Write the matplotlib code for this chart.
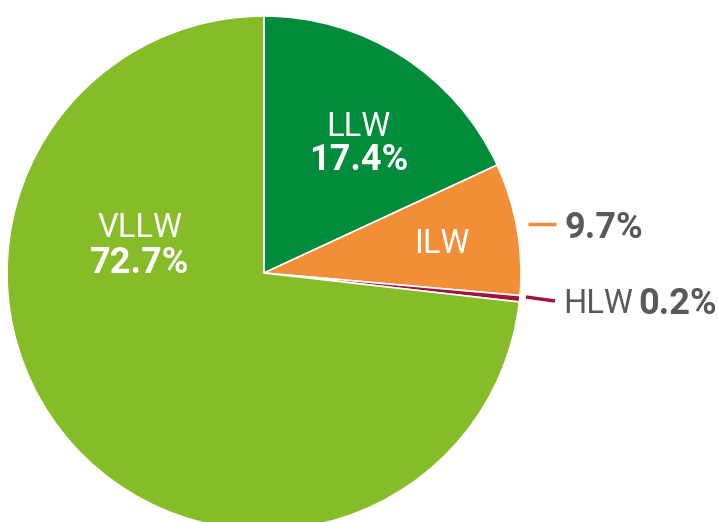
import matplotlib.pyplot as plt

plt.rcParams["font.family"] = ["Roboto", "DejaVu Sans"]

# waste classes, clockwise from 12 o'clock
categories = ["LLW", "ILW", "HLW", "VLLW"]
# slice shares as drawn in the picture
shares = [18.1, 8.3, 0.4, 73.2]
# printed percentages
pct_labels = ["17.4%", "9.7%", "0.2%", "72.7%"]
colors = ["#008C3A", "#F28E35", "#A3123F", "#85BC28"]

W, H = 718, 522
gray = "#58595B"

fig = plt.figure(figsize=(W / 100, H / 100), dpi=100)
ax = fig.add_axes([0, 0, 1, 1])

cx, cy, r = 264, H - 273, 257
ax.pie(
    shares,
    colors=colors,
    startangle=90,
    counterclock=False,
    center=(cx, cy),
    radius=r,
    wedgeprops=dict(edgecolor="white", linewidth=1.2),
    frame=True,
)
ax.set_xlim(0, W)
ax.set_ylim(0, H)
ax.set_aspect("equal")
ax.axis("off")


def px(x, y):
    return x, H - y


reg, big = 23.5, 26

# labels inside the big slices
ax.text(*px(358, 127), categories[0], color="white", fontsize=reg,
        ha="center", va="center")
ax.text(*px(359, 160), pct_labels[0], color="white", fontsize=big,
        fontweight="bold", ha="center", va="center")
ax.text(*px(140, 228), categories[3], color="white", fontsize=reg,
        ha="center", va="center")
ax.text(*px(140, 263), pct_labels[3], color="white", fontsize=big,
        fontweight="bold", ha="center", va="center")
ax.text(*px(442, 244), categories[1], color="white", fontsize=reg,
        ha="center", va="center")

# outside labels with leader lines
ax.plot([528, 556], [H - 224, H - 224], color=colors[1], lw=2.5,
        solid_capstyle="butt")
ax.text(*px(565, 228), pct_labels[1], color=gray, fontsize=big,
        fontweight="bold", ha="left", va="center")

ax.plot([526, 555], [H - 297, H - 301], color=colors[2], lw=2.5,
        solid_capstyle="butt")
ax.text(*px(563, 304), categories[2], color=gray, fontsize=reg,
        ha="left", va="center")
ax.text(*px(638, 304), pct_labels[2], color=gray, fontsize=big,
        fontweight="bold", ha="left", va="center")

fig.savefig("out.png", dpi=100, facecolor="white")
